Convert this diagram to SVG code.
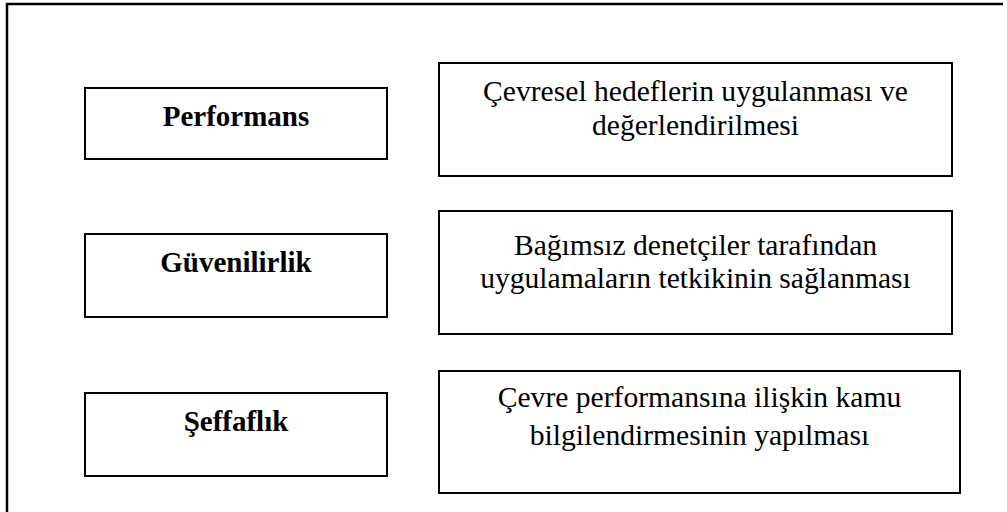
<svg xmlns="http://www.w3.org/2000/svg" width="1007" height="512" viewBox="0 0 1007 512">
<style>
.box{fill:#fff;stroke:#000;stroke-width:2}
.frame{fill:none;stroke:#000;stroke-width:2.5}
.lbl{font-family:"Liberation Serif","Times New Roman",serif;font-size:29px;font-weight:bold;fill:#000;text-anchor:middle}
.desc{font-family:"Liberation Serif","Times New Roman",serif;font-size:29.6px;fill:#000;text-anchor:middle}
</style>
<rect x="0" y="0" width="1007" height="512" fill="#fff"/>
<path class="frame" d="M7,512 V4 H1003"/>
<g id="connectors"></g>
<g id="performans">
<rect class="box" x="85" y="88" width="302" height="71"/>
<text class="lbl" x="236" y="126">Performans</text>
</g>
<g id="guvenilirlik">
<rect class="box" x="85" y="234" width="302" height="83"/>
<text class="lbl" x="236" y="272">Güvenilirlik</text>
</g>
<g id="seffaflik">
<rect class="box" x="85" y="393" width="302" height="83"/>
<text class="lbl" x="236" y="431">Şeffaflık</text>
</g>
<g id="hedefler">
<rect class="box" x="439" y="63" width="513" height="113"/>
<text class="desc" x="695.5" y="101">Çevresel hedeflerin uygulanması ve</text>
<text class="desc" x="695.5" y="135">değerlendirilmesi</text>
</g>
<g id="denetciler">
<rect class="box" x="439" y="211" width="513" height="123"/>
<text class="desc" x="695.5" y="255">Bağımsız denetçiler tarafından</text>
<text class="desc" x="695.5" y="288">uygulamaların tetkikinin sağlanması</text>
</g>
<g id="kamu">
<rect class="box" x="439" y="371" width="521" height="122"/>
<text class="desc" x="699.5" y="407">Çevre performansına ilişkin kamu</text>
<text class="desc" x="699.5" y="445">bilgilendirmesinin yapılması</text>
</g>
</svg>
